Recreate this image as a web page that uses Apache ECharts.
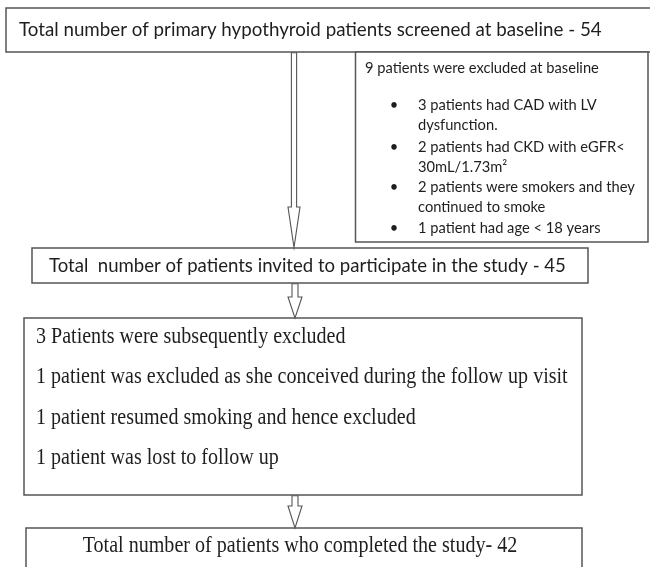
<!DOCTYPE html>
<html>
<head>
<meta charset="utf-8">
<script src="https://cdn.jsdelivr.net/npm/echarts@6/dist/echarts.min.js"></script>
<style>html,body{margin:0;padding:0;background:#fff;}#chart{width:650px;height:567px;}</style>
</head>
<body>
<div id="chart"></div>
<script>
// ---- Flowchart content (data) ----
const screenedText = 'Total number of primary hypothyroid patients screened at baseline - 54';
const baselineExclusionTitle = '9 patients were excluded at baseline';
const baselineExclusionBullets = [
  ['3 patients had CAD with LV', 'dysfunction.'],
  ['2 patients had CKD with eGFR<', '30mL/1.73m\u00B2'],
  ['2 patients were smokers and they', 'continued to smoke'],
  ['1 patient had age < 18 years']
];
const invitedText = 'Total  number of patients invited to participate in the study - 45';
const subsequentExclusionLines = [
  '3 Patients were subsequently excluded',
  '1 patient was excluded as she conceived during the follow up visit',
  '1 patient resumed smoking and hence excluded',
  '1 patient was lost to follow up'
];
const completedText = 'Total number of patients who completed the study- 42';

// ---- Layout / style ----
const SANS = 'Lato, "Open Sans", sans-serif';
const SERIF = '"Liberation Serif", "DejaVu Serif", serif';
const BORDER = '#555';
const TEXT = '#1e1e1e';

const mctx = document.createElement('canvas').getContext('2d');
function fitSize(text, family, width) {
  mctx.font = '100px ' + family;
  return 100 * width / mctx.measureText(text).width;
}

function box(x, y, w, h) {
  return { type: 'rect', shape: { x: x, y: y, width: w, height: h },
    style: { fill: '#fff', stroke: BORDER, lineWidth: 1.5 } };
}
function txt(x, y, text, size, family, align, sy) {
  return { type: 'text', x: x, y: y, z: 10, scaleY: sy || 1,
    style: { text: text, fontSize: size, fontFamily: family, fill: TEXT,
      align: align || 'left', verticalAlign: 'middle' } };
}
function arrow(cx, top, headY, tip, shaftHalf, headHalf) {
  return { type: 'polygon', z: 5,
    shape: { points: [
      [cx - shaftHalf, top], [cx + shaftHalf, top], [cx + shaftHalf, headY],
      [cx + headHalf, headY], [cx, tip], [cx - headHalf, headY], [cx - shaftHalf, headY]
    ] },
    style: { fill: '#fff', stroke: BORDER, lineWidth: 1.1 } };
}

const els = [];
// Box 1
els.push(box(6, 8, 680, 44));
els.push(txt(19, 30, screenedText, fitSize(screenedText, SANS, 583), SANS));
// Box 3 (baseline exclusions)
els.push(box(355.5, 52, 292.5, 190));
const s3 = fitSize(baselineExclusionTitle, SANS, 234);
els.push(txt(365, 68, baselineExclusionTitle, s3, SANS));
const bulletYs = [105, 147, 187, 228];
baselineExclusionBullets.forEach(function (lines, i) {
  els.push(txt(394, bulletYs[i], '\u2022', s3, SANS, 'center'));
  lines.forEach(function (ln, j) {
    els.push(txt(418, bulletYs[i] + j * 20, ln, s3, SANS));
  });
});
// Arrow 1
els.push(arrow(294, 52.8, 207, 247.5, 2.6, 6));
// Box 2
els.push(box(32, 248, 556, 35));
els.push(txt(49, 266, invitedText, fitSize(invitedText, SANS, 517), SANS));
// Arrow 2
els.push(arrow(295, 283.8, 297, 318, 3, 7));
// Box 4
els.push(box(24, 318, 558, 177));
const s4 = fitSize(subsequentExclusionLines[1], SERIF, 532);
subsequentExclusionLines.forEach(function (ln, i) {
  els.push(txt(36, 337 + i * 40.5, ln, s4, SERIF, 'left', 1.1));
});
// Arrow 3
els.push(arrow(295, 495.8, 506, 528, 3, 7));
// Box 5
els.push(box(26, 528, 556, 60));
els.push(txt(300, 546, completedText, fitSize(completedText, SERIF, 435), SERIF, 'center', 1.1));

const chart = echarts.init(document.getElementById('chart'), null, { renderer: 'canvas' });
chart.setOption({
  backgroundColor: '#fff',
  animation: false,
  graphic: { elements: els }
});
</script>
</body>
</html>
